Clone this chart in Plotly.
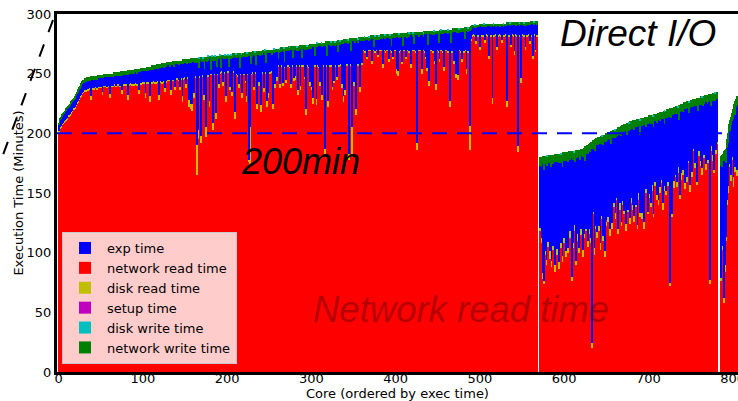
import plotly.graph_objects as go

# ---------------- data (one value per core, cores 0..805) ----------------
cores = list(range(806))

network_read_time = [
    201, 202, 204, 205, 207, 208, 209, 209, 210, 211,
    212, 214, 214, 215, 217, 217, 218, 220, 220, 221,
    222, 223, 225, 226, 228, 230, 231, 232, 233, 234,
    235, 236, 235, 236, 237, 236, 237, 238, 228, 237,
    237, 238, 237, 238, 238, 237, 238, 239, 238, 238,
    239, 238, 232, 239, 239, 240, 239, 238, 240, 239,
    240, 230, 239, 240, 239, 240, 241, 240, 239, 240,
    240, 241, 240, 239, 240, 233, 241, 240, 241, 240,
    241, 240, 228, 241, 240, 241, 242, 240, 241, 240,
    241, 242, 241, 240, 241, 233, 241, 242, 241, 242,
    242, 243, 242, 230, 242, 243, 242, 243, 226, 242,
    243, 242, 243, 244, 242, 243, 242, 243, 244, 228,
    243, 244, 243, 242, 244, 243, 235, 244, 243, 244,
    244, 245, 244, 232, 245, 244, 245, 244, 236, 245,
    245, 246, 245, 244, 236, 245, 246, 226, 245, 246,
    246, 238, 247, 246, 245, 222, 246, 220, 219, 247,
    247, 230, 248, 247, 165, 195, 247, 248, 247, 192,
    249, 248, 228, 249, 250, 197, 249, 248, 250, 222,
    250, 249, 250, 203, 249, 250, 249, 212, 250, 249,
    238, 251, 250, 251, 252, 240, 251, 250, 251, 226,
    251, 252, 251, 236, 252, 251, 231, 252, 251, 212,
    250, 249, 250, 248, 238, 250, 249, 248, 230, 249,
    250, 249, 242, 226, 250, 249, 176, 173, 249, 250,
    250, 251, 236, 250, 251, 220, 250, 251, 240, 250,
    218, 251, 250, 251, 235, 250, 251, 222, 250, 230,
    251, 250, 252, 251, 220, 256, 255, 238, 257, 244,
    256, 257, 255, 238, 256, 257, 240, 255, 257, 256,
    242, 256, 257, 256, 255, 257, 238, 256, 257, 244,
    257, 245, 256, 257, 232, 256, 257, 236, 256, 257,
    256, 257, 246, 256, 215, 256, 257, 255, 240, 256,
    236, 256, 225, 257, 256, 257, 224, 256, 257, 255,
    240, 256, 257, 228, 257, 256, 183, 256, 257, 256,
    222, 257, 256, 257, 256, 236, 257, 242, 257, 256,
    245, 257, 258, 256, 257, 258, 238, 257, 226, 257,
    232, 258, 257, 258, 256, 178, 257, 258, 180, 240,
    258, 240, 258, 215, 258, 257, 258, 243, 235, 258,
    258, 269, 270, 269, 268, 270, 262, 269, 270, 269,
    270, 269, 258, 270, 269, 268, 270, 269, 270, 264,
    269, 270, 269, 270, 269, 255, 270, 269, 268, 270,
    269, 270, 260, 269, 270, 268, 269, 262, 270, 269,
    270, 250, 269, 248, 268, 270, 269, 258, 270, 269,
    270, 269, 262, 270, 269, 270, 268, 269, 255, 270,
    269, 270, 269, 270, 268, 186, 269, 270, 269, 270,
    269, 250, 270, 269, 270, 268, 262, 252, 269, 270,
    240, 270, 269, 270, 268, 270, 258, 269, 236, 269,
    270, 268, 260, 270, 269, 270, 268, 252, 270, 269,
    270, 269, 268, 270, 222, 269, 270, 268, 270, 258,
    269, 270, 246, 270, 245, 269, 270, 268, 270, 260,
    270, 268, 270, 269, 250, 270, 268, 269, 186, 278,
    282, 281, 283, 282, 281, 275, 282, 283, 281, 282,
    270, 282, 281, 283, 282, 281, 276, 282, 283, 281,
    282, 262, 283, 281, 282, 225, 282, 281, 283, 282,
    270, 282, 281, 283, 282, 281, 276, 283, 282, 281,
    282, 283, 222, 282, 281, 283, 282, 272, 283, 282,
    281, 266, 283, 282, 281, 184, 282, 283, 281, 242,
    282, 283, 281, 282, 270, 283, 281, 282, 283, 275,
    282, 283, 281, 262, 282, 283, 268, 282, 281,
    0, 0,
    118, 125, 108, 160, 78, 74, 130, 98, 90, 116,
    105, 158, 95, 120, 88, 140, 102, 112, 84, 126,
    98, 132, 110, 86, 145, 104, 118, 92, 122, 108,
    130, 96, 114, 150, 100, 168, 112, 120, 76, 125,
    104, 138, 118, 90, 128, 110, 163, 100, 135, 115,
    122, 96, 145, 112, 130, 118, 168, 105, 140, 116,
    126, 108, 20, 150, 132, 98, 145, 120, 112, 138,
    118, 156, 102, 128, 145, 110, 134, 96, 160, 122,
    182, 126, 148, 114, 160, 134, 120, 182, 138, 152,
    128, 144, 182, 116, 158, 136, 168, 122, 150, 140,
    132, 156, 118, 185, 146, 134, 166, 124, 154, 142,
    136, 168, 126, 152, 138, 168, 120, 158, 144, 130,
    152, 128, 164, 144, 120, 173, 150, 158, 132, 168,
    146, 190, 138, 160, 152, 130, 172, 156, 196, 144,
    162, 140, 174, 150, 196, 158, 136, 168, 152, 180,
    148, 170, 156, 200, 142, 72, 162, 130, 172, 154,
    171, 163, 195, 155, 183, 167, 145, 179, 161, 187,
    165, 181, 153, 189, 173, 159, 185, 175, 151, 191,
    177, 163, 200, 185, 171, 193, 175, 157, 189, 181,
    208, 173, 187, 165, 195, 179, 198, 169, 191, 183,
    175, 193, 74, 185, 201, 177, 189, 167, 195, 183, 191,
    0, 0, 0, 0,
    76, 102, 130, 90, 58, 84, 110, 140, 165, 150,
    172, 180, 160, 178, 180, 155, 175, 168, 182, 164,
]

disk_read_time = [
    1, 1, 1, 1, 1, 1, 1, 1, 1, 1,
    1, 1, 1, 1, 1, 1, 1, 1, 1, 1,
    1, 1, 1, 1, 1, 1, 1, 1, 1, 1,
    1, 1, 1, 1, 1, 1, 1, 1, 3, 1,
    1, 1, 1, 1, 1, 1, 1, 1, 1, 1,
    1, 1, 3, 1, 1, 1, 1, 1, 1, 1,
    1, 3, 1, 1, 1, 1, 1, 1, 1, 1,
    1, 1, 1, 1, 1, 3, 1, 1, 1, 1,
    1, 1, 4, 1, 1, 1, 1, 1, 1, 1,
    1, 1, 1, 1, 1, 3, 1, 1, 1, 1,
    1, 1, 1, 4, 1, 1, 1, 1, 5, 1,
    1, 1, 1, 1, 1, 1, 1, 1, 1, 4,
    1, 1, 1, 1, 1, 1, 3, 1, 1, 1,
    1, 1, 1, 4, 1, 1, 1, 1, 3, 1,
    1, 1, 1, 1, 3, 1, 1, 5, 1, 1,
    1, 3, 1, 1, 1, 6, 1, 5, 6, 1,
    1, 4, 1, 1, 25, 8, 1, 1, 1, 6,
    1, 1, 4, 1, 1, 8, 1, 1, 1, 5,
    1, 1, 1, 6, 1, 1, 1, 5, 1, 1,
    3, 1, 1, 1, 1, 3, 1, 1, 1, 5,
    1, 1, 1, 3, 1, 1, 4, 1, 1, 6,
    1, 1, 1, 1, 3, 1, 1, 1, 4, 1,
    1, 1, 2, 5, 1, 1, 2, 32, 1, 1,
    1, 1, 3, 1, 1, 5, 1, 1, 3, 1,
    6, 1, 1, 1, 3, 1, 1, 5, 1, 4,
    1, 1, 1, 1, 5, 1, 1, 3, 1, 3,
    1, 1, 1, 3, 1, 1, 2, 1, 1, 1,
    3, 1, 1, 1, 1, 1, 3, 1, 1, 2,
    1, 3, 1, 1, 4, 1, 1, 4, 1, 1,
    1, 1, 1, 1, 5, 1, 1, 1, 3, 1,
    3, 1, 5, 1, 1, 1, 5, 1, 1, 1,
    3, 1, 1, 4, 1, 1, 4, 1, 1, 1,
    5, 1, 1, 1, 1, 3, 1, 2, 1, 1,
    2, 1, 1, 1, 1, 1, 3, 1, 5, 1,
    4, 1, 1, 1, 1, 5, 1, 1, 25, 3,
    1, 3, 1, 5, 1, 1, 1, 3, 4, 1,
    1, 1, 1, 1, 1, 1, 2, 1, 1, 1,
    1, 1, 3, 1, 1, 1, 1, 1, 1, 2,
    1, 1, 1, 1, 1, 3, 1, 1, 1, 1,
    1, 1, 2, 1, 1, 1, 1, 2, 1, 1,
    1, 4, 1, 4, 1, 1, 1, 2, 1, 1,
    1, 1, 2, 1, 1, 1, 1, 1, 3, 1,
    1, 1, 1, 1, 1, 6, 1, 1, 1, 1,
    1, 4, 1, 1, 1, 1, 2, 3, 1, 1,
    4, 1, 1, 1, 1, 1, 3, 1, 5, 1,
    1, 1, 2, 1, 1, 1, 1, 4, 1, 1,
    1, 1, 1, 1, 5, 1, 1, 1, 1, 3,
    1, 1, 4, 1, 4, 1, 1, 1, 1, 2,
    1, 1, 1, 1, 4, 1, 1, 1, 20, 1,
    1, 1, 1, 1, 1, 2, 1, 1, 1, 1,
    2, 1, 1, 1, 1, 1, 2, 1, 1, 1,
    1, 3, 1, 1, 1, 5, 1, 1, 1, 1,
    2, 1, 1, 1, 1, 1, 2, 1, 1, 1,
    1, 1, 5, 1, 1, 1, 1, 2, 1, 1,
    1, 3, 1, 1, 1, 5, 1, 1, 1, 4,
    1, 1, 1, 1, 2, 1, 1, 1, 1, 2,
    1, 1, 1, 3, 1, 1, 2, 1, 1,
    0, 0,
    3, 2, 4, 3, 5, 2, 6, 3, 4, 2,
    4, 3, 6, 2, 5, 3, 4, 2, 6, 3,
    5, 2, 3, 6, 2, 4, 3, 5, 2, 4,
    3, 5, 2, 3, 4, 2, 6, 3, 4, 2,
    4, 2, 5, 3, 2, 6, 3, 4, 2, 5,
    3, 6, 2, 4, 3, 2, 3, 5, 2, 4,
    2, 4, 4, 3, 2, 6, 3, 2, 5, 3,
    4, 2, 6, 3, 2, 4, 3, 5, 2, 4,
    2, 4, 3, 6, 2, 3, 5, 2, 4, 3,
    5, 2, 3, 4, 2, 6, 3, 4, 2, 3,
    3, 2, 6, 3, 4, 2, 3, 5, 2, 4,
    4, 2, 5, 3, 2, 4, 3, 2, 6, 3,
    2, 5, 3, 4, 6, 2, 3, 4, 2, 3,
    3, 2, 4, 3, 5, 2, 6, 3, 2, 4,
    2, 4, 3, 5, 2, 3, 6, 2, 4, 3,
    4, 2, 3, 2, 5, 3, 4, 2, 3, 6,
    3, 2, 3, 4, 2, 5, 3, 2, 6, 3,
    4, 2, 5, 3, 2, 4, 3, 2, 6, 3,
    2, 5, 3, 2, 4, 3, 6, 2, 3, 4,
    2, 4, 3, 6, 2, 3, 2, 5, 3, 4,
    3, 2, 3, 4, 2, 5, 3, 2, 4, 3, 2,
    0, 0, 0, 0,
    3, 4, 5, 3, 4, 6, 3, 4, 3, 6,
    2, 3, 5, 2, 3, 8, 3, 4, 2, 5,
]

exp_time = [
    5, 6, 6, 6, 6, 6, 6, 7, 7, 7,
    7, 6, 7, 7, 6, 7, 7, 6, 7, 7,
    7, 7, 7, 7, 7, 6, 7, 7, 7, 7,
    6, 6, 7, 6, 6, 7, 6, 5, 14, 7,
    7, 6, 7, 6, 6, 7, 7, 6, 7, 7,
    6, 7, 11, 6, 7, 6, 7, 8, 6, 7,
    6, 14, 7, 6, 7, 7, 6, 7, 8, 7,
    7, 6, 7, 8, 7, 12, 7, 8, 7, 8,
    7, 8, 17, 8, 9, 8, 7, 9, 8, 9,
    9, 8, 9, 9, 9, 15, 9, 8, 10, 9,
    9, 8, 9, 18, 9, 9, 9, 9, 22, 10,
    9, 11, 9, 9, 11, 10, 11, 11, 9, 23,
    11, 10, 11, 13, 11, 11, 18, 11, 12, 12,
    12, 11, 11, 21, 11, 12, 12, 11, 19, 12,
    12, 11, 12, 12, 19, 12, 11, 27, 12, 12,
    12, 18, 10, 12, 13, 31, 12, 34, 35, 12,
    12, 26, 10, 12, 69, 57, 12, 6, 13, 63,
    10, 11, 29, 4, 10, 56, 10, 12, 11, 35,
    11, 3, 10, 53, 11, 11, 11, 45, 5, 12,
    21, 10, 12, 3, 10, 20, 10, 11, 11, 32,
    11, 9, 4, 24, 10, 10, 28, 10, 12, 46,
    12, 14, 12, 15, 23, 4, 14, 14, 30, 14,
    13, 14, 21, 34, 13, 15, 87, 60, 8, 14,
    13, 14, 27, 14, 5, 41, 15, 14, 23, 14,
    42, 14, 15, 15, 29, 15, 7, 40, 16, 33,
    15, 16, 14, 14, 42, 11, 11, 27, 10, 21,
    11, 4, 11, 27, 11, 11, 27, 12, 2, 12,
    24, 12, 11, 12, 13, 12, 29, 13, 5, 24,
    12, 22, 13, 11, 34, 12, 13, 31, 14, 5,
    14, 13, 23, 14, 51, 13, 13, 15, 29, 14,
    33, 15, 42, 14, 8, 14, 44, 15, 15, 17,
    30, 16, 14, 40, 15, 16, 86, 17, 7, 17,
    47, 16, 17, 15, 16, 35, 16, 30, 15, 17,
    27, 17, 9, 18, 16, 16, 34, 17, 44, 18,
    40, 17, 18, 16, 19, 93, 19, 10, 72, 34,
    18, 34, 17, 57, 18, 18, 19, 32, 39, 18,
    19, 7, 7, 7, 9, 7, 14, 8, 6, 8,
    7, 9, 18, 8, 2, 9, 8, 9, 7, 13,
    8, 8, 9, 9, 9, 22, 9, 9, 11, 9,
    10, 9, 18, 9, 9, 4, 10, 16, 10, 10,
    10, 27, 11, 29, 11, 9, 11, 21, 10, 3,
    10, 11, 17, 9, 12, 11, 12, 12, 24, 11,
    12, 10, 5, 11, 13, 90, 12, 11, 11, 11,
    12, 28, 11, 11, 12, 14, 19, 28, 4, 12,
    39, 12, 13, 11, 14, 11, 22, 13, 42, 13,
    12, 7, 21, 13, 13, 13, 14, 28, 13, 14,
    13, 14, 14, 13, 57, 14, 5, 15, 14, 24,
    15, 14, 35, 13, 36, 14, 14, 16, 14, 23,
    14, 16, 8, 16, 32, 15, 16, 16, 80, 8,
    5, 7, 5, 5, 6, 12, 5, 5, 7, 6,
    18, 7, 7, 6, 7, 7, 12, 6, 6, 8,
    7, 25, 6, 7, 7, 60, 6, 8, 6, 6,
    18, 7, 8, 6, 6, 8, 12, 6, 6, 8,
    7, 6, 64, 8, 9, 6, 7, 17, 7, 8,
    9, 22, 7, 7, 9, 102, 8, 6, 9, 45,
    8, 7, 8, 8, 19, 6, 9, 8, 7, 14,
    8, 8, 10, 27, 8, 8, 22, 9, 9,
    0, 0,
    52, 47, 60, 11, 91, 93, 39, 73, 81, 55,
    67, 14, 75, 50, 82, 33, 68, 62, 86, 48,
    73, 43, 64, 83, 30, 67, 56, 75, 54, 65,
    45, 76, 62, 24, 72, 9, 60, 56, 99, 51,
    71, 38, 53, 87, 49, 64, 14, 76, 41, 61,
    56, 78, 35, 66, 44, 63, 13, 73, 43, 66,
    56, 75, 163, 34, 54, 85, 37, 68, 73, 49,
    69, 33, 83, 61, 44, 76, 56, 92, 32, 66,
    10, 65, 44, 74, 34, 54, 71, 13, 54, 41,
    65, 51, 13, 79, 39, 57, 27, 74, 49, 58,
    66, 44, 78, 15, 49, 67, 33, 74, 48, 58,
    64, 35, 72, 50, 65, 34, 82, 46, 56, 66,
    53, 73, 40, 59, 81, 33, 52, 46, 74, 37,
    60, 17, 66, 46, 51, 73, 32, 51, 11, 61,
    47, 67, 34, 55, 14, 51, 70, 43, 52, 30,
    61, 41, 55, 11, 67, 140, 47, 83, 40, 56,
    42, 51, 19, 57, 31, 39, 70, 37, 52, 29,
    49, 37, 62, 28, 45, 58, 33, 40, 64, 28,
    43, 54, 19, 36, 48, 27, 43, 65, 27, 39,
    13, 48, 35, 53, 26, 43, 26, 52, 32, 38,
    48, 32, 150, 34, 24, 46, 36, 58, 28, 43, 36,
    0, 0, 0, 0,
    94, 66, 40, 84, 115, 88, 62, 44, 24, 41,
    27, 19, 42, 30, 29, 52, 40, 43, 38, 55,
]

network_write_time = [
    2, 2, 2, 2, 2, 2, 2, 2, 2, 2,
    2, 2, 2, 2, 2, 2, 2, 2, 2, 2,
    2, 2, 2, 3, 3, 3, 3, 3, 3, 3,
    3, 3, 3, 3, 3, 3, 3, 3, 3, 3,
    3, 3, 3, 3, 3, 3, 3, 3, 3, 3,
    3, 3, 3, 3, 3, 3, 3, 3, 3, 3,
    3, 3, 3, 3, 3, 3, 3, 3, 3, 3,
    3, 3, 3, 3, 4, 4, 3, 3, 3, 3,
    3, 3, 4, 3, 3, 3, 3, 3, 3, 3,
    3, 3, 3, 4, 3, 3, 3, 3, 3, 3,
    3, 3, 3, 3, 3, 3, 4, 3, 3, 3,
    3, 3, 4, 3, 3, 3, 3, 3, 4, 3,
    3, 3, 3, 3, 3, 4, 3, 3, 3, 3,
    3, 3, 4, 3, 3, 3, 3, 4, 3, 3,
    3, 3, 3, 4, 3, 3, 3, 3, 4, 3,
    3, 3, 4, 3, 3, 3, 3, 4, 3, 3,
    3, 3, 4, 3, 4, 3, 3, 8, 3, 3,
    4, 3, 3, 10, 3, 3, 4, 3, 3, 3,
    3, 12, 3, 3, 4, 3, 3, 3, 9, 3,
    3, 3, 3, 11, 3, 3, 4, 3, 3, 3,
    3, 3, 10, 3, 3, 3, 3, 4, 3, 3,
    3, 3, 4, 3, 3, 12, 3, 3, 3, 3,
    3, 4, 3, 3, 3, 3, 3, 3, 10, 3,
    4, 3, 3, 3, 12, 3, 3, 3, 3, 4,
    3, 3, 4, 3, 3, 3, 11, 3, 3, 3,
    3, 3, 3, 4, 3, 3, 3, 3, 3, 3,
    3, 9, 3, 3, 4, 3, 3, 3, 12, 3,
    3, 3, 3, 4, 3, 3, 3, 3, 10, 3,
    3, 3, 3, 3, 3, 4, 3, 3, 3, 11,
    3, 3, 4, 3, 3, 3, 3, 3, 3, 4,
    3, 3, 3, 3, 10, 3, 3, 3, 3, 3,
    3, 3, 3, 4, 3, 3, 3, 3, 12, 3,
    3, 3, 3, 3, 4, 3, 3, 3, 3, 3,
    3, 3, 10, 3, 3, 3, 3, 3, 4, 3,
    3, 3, 3, 3, 3, 3, 3, 11, 3, 3,
    3, 3, 4, 3, 3, 3, 3, 3, 3, 4,
    3, 4, 3, 3, 3, 3, 3, 3, 3, 3,
    3, 3, 3, 3, 10, 3, 3, 3, 4, 3,
    3, 3, 3, 3, 4, 3, 3, 3, 3, 3,
    3, 3, 3, 3, 3, 10, 3, 3, 3, 4,
    3, 3, 3, 3, 3, 4, 3, 3, 3, 11,
    3, 3, 3, 4, 3, 3, 3, 3, 3, 3,
    3, 3, 10, 3, 3, 3, 3, 3, 4, 3,
    3, 3, 3, 3, 3, 3, 3, 3, 12, 3,
    3, 3, 3, 4, 3, 3, 3, 3, 3, 3,
    3, 10, 3, 3, 3, 3, 4, 3, 3, 3,
    3, 3, 3, 3, 3, 3, 11, 3, 3, 3,
    3, 3, 3, 4, 3, 3, 3, 3, 3, 3,
    3, 3, 10, 3, 3, 3, 3, 3, 3, 3,
    3, 2, 2, 3, 2, 2, 3, 2, 2, 2,
    2, 2, 3, 2, 2, 2, 2, 3, 2, 2,
    2, 2, 2, 3, 2, 2, 2, 2, 2, 3,
    2, 2, 2, 2, 3, 2, 2, 2, 2, 2,
    2, 2, 2, 2, 2, 3, 2, 2, 2, 2,
    2, 2, 2, 3, 2, 2, 2, 2, 2, 2,
    2, 2, 2, 2, 2, 3, 2, 2, 2, 2,
    2, 2, 2, 2, 2, 2, 2, 2, 3,
    0, 0,
    7, 6, 8, 6, 7, 12, 6, 7, 6, 8,
    6, 7, 6, 10, 7, 6, 8, 6, 7, 6,
    7, 6, 6, 8, 6, 7, 6, 11, 6, 7,
    6, 7, 6, 6, 8, 6, 7, 6, 6, 7,
    6, 6, 9, 6, 7, 6, 6, 6, 8, 6,
    6, 7, 6, 6, 12, 6, 6, 7, 6, 6,
    8, 6, 6, 7, 6, 6, 10, 6, 6, 7,
    6, 6, 7, 6, 6, 9, 6, 6, 6, 7,
    6, 6, 6, 7, 6, 11, 6, 6, 7, 6,
    6, 7, 6, 6, 6, 6, 8, 6, 6, 6,
    7, 6, 6, 6, 10, 6, 6, 7, 6, 6,
    6, 6, 8, 6, 6, 6, 7, 6, 6, 12,
    6, 7, 6, 6, 6, 6, 9, 6, 6, 6,
    6, 6, 7, 6, 6, 11, 6, 6, 6, 7,
    6, 6, 6, 8, 6, 6, 6, 6, 10, 6,
    6, 7, 6, 6, 6, 6, 8, 6, 6, 6,
    6, 6, 6, 7, 6, 13, 6, 6, 6, 6,
    7, 6, 6, 6, 6, 6, 6, 9, 6, 6,
    6, 6, 7, 6, 6, 6, 6, 6, 11, 6,
    6, 6, 6, 6, 8, 6, 6, 6, 6, 7,
    6, 6, 6, 10, 6, 6, 6, 7, 6, 6, 6,
    0, 0, 0, 0,
    8, 10, 8, 7, 8, 8, 12, 7, 8, 7,
    7, 9, 7, 7, 8, 7, 7, 12, 7, 7,
]

# disk write and setup times are only visible on a few cores (all others 0)
disk_write_by_core = {
    167: 1, 171: 1, 177: 1, 182: 1, 186: 1, 191: 1, 197: 1, 201: 1, 205: 1,
    210: 1, 217: 1, 224: 1, 233: 1, 245: 1, 256: 1, 262: 1, 267: 1, 274: 1,
    283: 1, 295: 1, 307: 1, 312: 1, 323: 1, 328: 1, 334: 1, 343: 1, 355: 1,
    363: 1, 368: 1, 375: 1, 380: 1, 387: 1, 393: 1, 404: 1, 416: 1, 421: 1,
    433: 1, 445: 1, 454: 1, 462: 1, 475: 1, 486: 1, 494: 1, 505: 1, 516: 1,
    528: 1, 536: 1, 547: 1, 552: 1, 564: 1,
    580: 1, 596: 1, 612: 1, 645: 1, 660: 1, 677: 1, 690: 1, 705: 1, 719: 1,
    735: 1, 748: 1, 764: 1, 779: 1,
}
setup_by_core = {604: 1, 650: 1, 709: 1, 724: 1, 761: 1}

disk_write_time = [disk_write_by_core.get(c, 0) for c in cores]
setup_time = [setup_by_core.get(c, 0) for c in cores]

x_ticks = [0, 100, 200, 300, 400, 500, 600, 700, 800]
y_ticks = [0, 50, 100, 150, 200, 250, 300]
threshold_minutes = 200

# ---------------- figure ----------------
# (name, values, colour, legend position)
series = [
    ("network read time", network_read_time, "#ff0000", 2),
    ("disk read time", disk_read_time, "#bfbf00", 3),
    ("setup time", setup_time, "#bf00bf", 4),
    ("exp time", exp_time, "#0000ff", 1),
    ("network write time", network_write_time, "#008000", 6),
    ("disk write time", disk_write_time, "#00bfbf", 5),
]

fig = go.Figure()
for name, vals, color, rank in series:
    fig.add_trace(go.Bar(
        x=cores, y=vals, name=name, legendrank=rank,
        marker=dict(color=color, line=dict(width=0)),
        hoverinfo="skip",
    ))

W, H = 738, 401
L, R, T, B = 57, 0, 14, 29
pw, ph = W - L - R, H - T - B


def px_x(px):
    return (px - L) / pw


def px_y(py):
    return (H - B - py) / ph


fig.update_layout(
    template="none",
    width=W, height=H,
    margin=dict(l=L, r=R, t=T, b=B, pad=0),
    barmode="stack", bargap=0,
    plot_bgcolor="white", paper_bgcolor="white",
    font=dict(family="DejaVu Sans", size=13, color="black"),
    xaxis=dict(
        range=[-2.0, 806.3], tickmode="array", tickvals=x_ticks,
        showline=True, linewidth=3, linecolor="black", mirror=True,
        showgrid=False, zeroline=False, ticks="", ticklen=0,
        ticklabelstandoff=-8, ticklabeloverflow="allow",
        tickfont=dict(size=13),
        title=dict(text="Core (ordered by exec time)", font=dict(size=13), standoff=0),
    ),
    yaxis=dict(
        range=[0, 300], tickmode="array", tickvals=y_ticks,
        showline=True, linewidth=3, linecolor="black",
        showgrid=False, zeroline=False, ticks="", ticklen=0,
        ticklabelstandoff=0,
        tickfont=dict(size=13),
        title=dict(text="Execution Time (Minutes)", font=dict(size=13), standoff=1),
    ),
    showlegend=True,
    legend=dict(
        x=px_x(62), y=px_y(364), xanchor="left", yanchor="bottom",
        bgcolor="#ffcccc", bordercolor="#c8c8c8", borderwidth=1,
        font=dict(family="DejaVu Sans", size=13, color="black"),
        traceorder="normal", itemwidth=34, tracegroupgap=0,
    ),
)

# 200-minute dashed reference line
fig.add_shape(type="line", xref="paper", x0=0, x1=1, yref="y",
              y0=threshold_minutes, y1=threshold_minutes,
              line=dict(color="#0000ff", width=2, dash="15px,10px"), layer="above")

# dashed diagonal stroke left of the y axis
fig.add_shape(type="line", xref="paper", yref="paper",
              x0=px_x(53), y0=px_y(20), x1=px_x(0), y1=px_y(163),
              line=dict(color="black", width=2, dash="13px,13px"), layer="above")

big = "Liberation Sans"
fig.add_annotation(text="<i>Direct I/O</i>", xref="paper", yref="paper",
                   x=px_x(637.5), y=px_y(33), xanchor="center", yanchor="middle",
                   showarrow=False, font=dict(family=big, size=37, color="black"))
fig.add_annotation(text="<i>200min</i>", xref="paper", yref="paper",
                   x=px_x(300), y=px_y(161), xanchor="center", yanchor="middle",
                   showarrow=False, font=dict(family=big, size=36, color="black"))
fig.add_annotation(text="<i>Network read time</i>", xref="paper", yref="paper",
                   x=px_x(461), y=px_y(309), xanchor="center", yanchor="middle",
                   showarrow=False, font=dict(family=big, size=36.5, color="rgba(0,0,0,0.3)"))

fig.write_html("out.html", config={"displayModeBar": False},
               post_script="document.body.style.margin='0px';")
